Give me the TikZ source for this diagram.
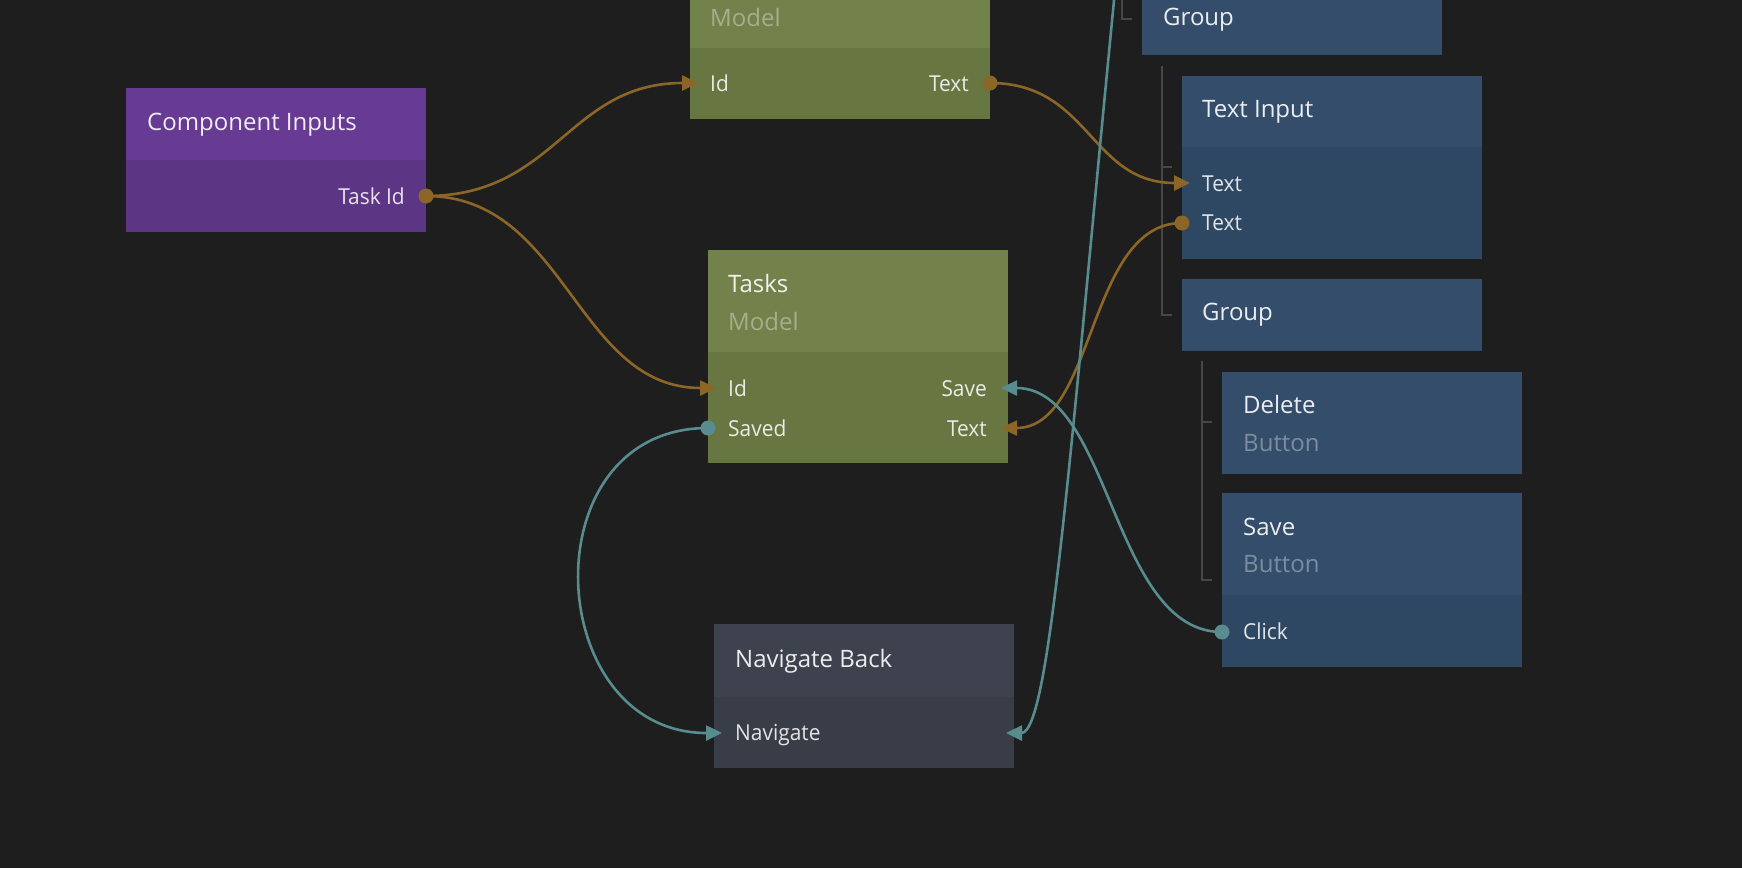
\documentclass[tikz,border=0pt]{standalone}
\usepackage{fontspec}
\setmainfont{Open Sans}
\newfontfamily\portfont{Open Sans}[FakeStretch=0.95]
\usetikzlibrary{arrows.meta}

\definecolor{bg}{HTML}{1E1E1E}
\definecolor{ciH}{HTML}{673A93}
\definecolor{ciB}{HTML}{5D3585}
\definecolor{mdH}{HTML}{72824A}
\definecolor{mdB}{HTML}{687641}
\definecolor{uiH}{HTML}{334D6A}
\definecolor{uiB}{HTML}{2E4762}
\definecolor{nvH}{HTML}{3E424E}
\definecolor{nvB}{HTML}{393D48}
\definecolor{wireO}{HTML}{8C6626}
\definecolor{wireT}{HTML}{588C8E}
\definecolor{treeC}{HTML}{474747}

\begin{document}
\begin{tikzpicture}[x=1pt,y=-1pt,
  panel/.style={rectangle, inner sep=0pt, outer sep=0pt, minimum width=300pt, anchor=north west},
  ttl/.style={anchor=base west, inner sep=0pt, text=white, text opacity=0.9, font=\fontsize{24}{28}\selectfont},
  sub/.style={ttl, text opacity=0.36},
  portl/.style={anchor=base west, inner sep=0pt, text=white, text opacity=0.86, font=\portfont\fontsize{22}{26}\selectfont},
  portr/.style={portl, anchor=base east},
  wire/.style={line width=2.6pt},
  ochre/.style={wire, draw=wireO},
  tealw/.style={wire, draw=wireT},
  arr/.style={-{Triangle[length=16pt,width=15pt]}},
  outdot/.style={circle, inner sep=0pt, minimum size=15pt},
  tree/.style={draw=treeC, line width=2pt}]

\useasboundingbox (0,0) rectangle (1742,868);
\clip (0,0) rectangle (1742,868);
\fill[bg] (0,0) rectangle (1742,868);

% ---- tree guides of the visual hierarchy
\draw[tree] (1122,-5) -- (1122,19) -- (1132,19);
\draw[tree] (1162,66) -- (1162,315) -- (1172,315);
\draw[tree] (1162,167) -- (1172,167);
\draw[tree] (1202,361) -- (1202,580) -- (1212,580);
\draw[tree] (1202,422) -- (1212,422);

% ---- Component Inputs
\node[panel, fill=ciH, minimum height=72pt] (ci-h) at (126,88) {};
\node[panel, fill=ciB, minimum height=72pt] (ci-b) at (126,160) {};
\node[ttl] (ci-t) at (147,130.7) {Component Inputs};
\node[portr] (ci-p1) at (405,204.3) {Task Id};

% ---- Model (upper)
\node[panel, fill=mdH, minimum height=102pt] (m1-h) at (690,-54) {};
\node[panel, fill=mdB, minimum height=71pt] (m1-b) at (690,48) {};
\node[sub] (m1-s) at (710,26) {Model};
\node[portl] (m1-p1) at (710,91.7) {Id};
\node[portr] (m1-p2) at (969,91.7) {Text};

% ---- Tasks model
\node[panel, fill=mdH, minimum height=102pt] (tk-h) at (708,250) {};
\node[panel, fill=mdB, minimum height=111pt] (tk-b) at (708,352) {};
\node[ttl] (tk-t) at (728,292.3) {Tasks};
\node[sub] (tk-s) at (728,330) {Model};
\node[portl] (tk-p1) at (728,396) {Id};
\node[portl] (tk-p2) at (728,436) {Saved};
\node[portr] (tk-p3) at (987,396) {Save};
\node[portr] (tk-p4) at (987,436) {Text};

% ---- Navigate Back
\node[panel, fill=nvH, minimum height=73pt] (nv-h) at (714,624) {};
\node[panel, fill=nvB, minimum height=71pt] (nv-b) at (714,697) {};
\node[ttl] (nv-t) at (735,667.3) {Navigate Back};
\node[portl] (nv-p1) at (735,740.7) {Navigate};

% ---- Group (top)
\node[panel, fill=uiH, minimum height=72pt] (g1-h) at (1142,-17) {};
\node[ttl] (g1-t) at (1163,25) {Group};

% ---- Text Input
\node[panel, fill=uiH, minimum height=71pt] (ti-h) at (1182,76) {};
\node[panel, fill=uiB, minimum height=112pt] (ti-b) at (1182,147) {};
\node[ttl] (ti-t) at (1202,117.3) {Text Input};
\node[portl] (ti-p1) at (1202,191) {Text};
\node[portl] (ti-p2) at (1202,230.7) {Text};

% ---- Group (inner)
\node[panel, fill=uiH, minimum height=72pt] (g2-h) at (1182,279) {};
\node[ttl] (g2-t) at (1202,320.7) {Group};

% ---- Delete button
\node[panel, fill=uiH, minimum height=102pt] (dl-h) at (1222,372) {};
\node[ttl] (dl-t) at (1243,413.3) {Delete};
\node[sub] (dl-s) at (1243,451) {Button};

% ---- Save button
\node[panel, fill=uiH, minimum height=102pt] (sv-h) at (1222,493) {};
\node[panel, fill=uiB, minimum height=72pt] (sv-b) at (1222,595) {};
\node[ttl] (sv-t) at (1243,535) {Save};
\node[sub] (sv-s) at (1243,572.3) {Button};
\node[portl] (sv-p1) at (1243,639) {Click};

% ---- port points
\coordinate (ci-out)   at (426,196);
\coordinate (m1-in)    at (698,83);
\coordinate (m1-out)   at (990,83);
\coordinate (tk-in)    at (716,388);
\coordinate (tk-saved) at (708,428);
\coordinate (tk-save)  at (1001,388);
\coordinate (tk-text)  at (1001,428);
\coordinate (nv-in)    at (722,733);
\coordinate (nv-in2)   at (1006,733);
\coordinate (ti-in)    at (1190,183);
\coordinate (ti-out)   at (1182,223);
\coordinate (sv-click) at (1222,632);
\coordinate (far-src)  at (1116,-20);

% ---- connections
\draw[ochre, arr] (ci-out) .. controls +(130,0) and +(-130,0) .. (m1-in);
\draw[ochre, arr] (ci-out) .. controls +(140,0) and +(-140,0) .. (tk-in);
\draw[ochre, arr] (m1-out) .. controls +(100,0) and +(-100,0) .. (ti-in);
\draw[ochre, arr] (ti-out) .. controls +(-95,0) and +(95,0) .. (tk-text);
\draw[tealw, arr] (sv-click) .. controls +(-110,0) and +(110,0) .. (tk-save);
\draw[tealw, arr] (tk-saved) .. controls +(-180,0) and +(-180,0) .. (nv-in);
\draw[tealw, arr] (far-src) .. controls +(-46,470) and +(44,0) .. (nv-in2);

% ---- output dots
\node[outdot, fill=wireO] (ci-dot) at (ci-out) {};
\node[outdot, fill=wireO] (m1-dot) at (m1-out) {};
\node[outdot, fill=wireO] (ti-dot) at (ti-out) {};
\node[outdot, fill=wireT] (tk-dot) at (tk-saved) {};
\node[outdot, fill=wireT] (sv-dot) at (sv-click) {};

\end{tikzpicture}
\end{document}
